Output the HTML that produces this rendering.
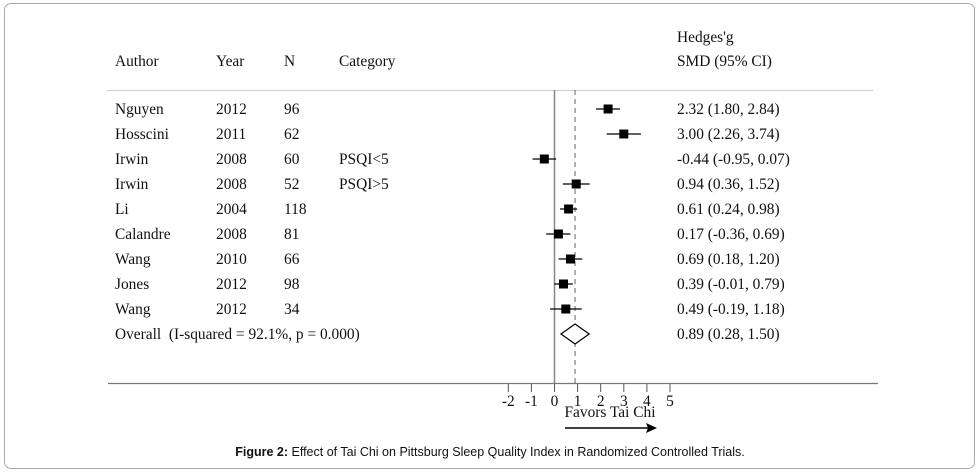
<!DOCTYPE html>
<html><head><meta charset="utf-8"><style>
body{margin:0;background:#fff;}
#frame{position:absolute;left:4px;top:3px;width:969px;height:464px;border:1px solid #aaa;border-radius:7px;}
svg{position:absolute;left:0;top:0;}
text{font-family:"Liberation Serif",serif;font-size:15.4px;fill:#111;}
.cap{font-family:"Liberation Sans",sans-serif;font-size:12.5px;}
</style></head><body>
<div id="frame"></div>
<svg id="c" width="980" height="475"></svg>
<script>
const authors=["Nguyen","Hosscini","Irwin","Irwin","Li","Calandre","Wang","Jones","Wang"];
const years=["2012","2011","2008","2008","2004","2008","2010","2012","2012"];
const ns=["96","62","60","52","118","81","66","98","34"];
const cats=["","","PSQI<5","PSQI>5","","","","",""];
const est=[2.32,3.00,-0.44,0.94,0.61,0.17,0.69,0.39,0.49];
const lo=[1.80,2.26,-0.95,0.36,0.24,-0.36,0.18,-0.01,-0.19];
const hi=[2.84,3.74,0.07,1.52,0.98,0.69,1.20,0.79,1.18];
const overall=[0.89,0.28,1.50];
const ticks=[-2,-1,0,1,2,3,4,5];
const NS="http://www.w3.org/2000/svg",svg=document.getElementById('c');
const x=v=>554.5+v*23.1, rowY=i=>109+i*25;
function el(t,a,txt){const e=document.createElementNS(NS,t);for(const k in a)e.setAttribute(k,a[k]);if(txt!==undefined)e.textContent=txt;svg.appendChild(e);return e;}
const fmt=v=>v.toFixed(2);
let e;
e=el('text',{x:677,y:42},"Hedges'g");
e=el('text',{x:677,y:66},"SMD (95% CI)");
[["Author",115],["Year",216],["N",284],["Category",339]].forEach(h=>{e=el('text',{x:h[1],y:66},h[0]);});
e=el('line',{x1:107,y1:90.5,x2:873,y2:90.5,stroke:'#ccc','stroke-width':1});
e=el('line',{x1:x(0),y1:90,x2:x(0),y2:383,stroke:'#888','stroke-width':1.5});
e=el('line',{x1:x(overall[0]),y1:90,x2:x(overall[0]),y2:383,stroke:'#666','stroke-width':1,'stroke-dasharray':'5,4'});
for(let i=0;i<est.length;i++){const y=rowY(i);
 e=el('text',{x:115,y:y+5},authors[i]);
 e=el('text',{x:216,y:y+5},years[i]);
 e=el('text',{x:284,y:y+5},ns[i]);
 if(cats[i]){e=el('text',{x:339,y:y+5},cats[i]);}
 e=el('line',{x1:x(lo[i]),y1:y,x2:x(hi[i]),y2:y,stroke:'#000','stroke-width':1.3});
 e=el('rect',{x:x(est[i])-4.5,y:y-4.5,width:9,height:9,fill:'#000'});
 e=el('text',{x:677,y:y+5},fmt(est[i])+" ("+fmt(lo[i])+", "+fmt(hi[i])+")");
}
const oy=rowY(9);
e=el('text',{x:115,y:oy+5},"Overall\u00a0\u00a0(I-squared = 92.1%, p = 0.000)");
e=el('polygon',{points:`${x(overall[1])},${oy} ${x(overall[0])},${oy-10} ${x(overall[2])},${oy} ${x(overall[0])},${oy+10}`,fill:'#fff',stroke:'#000','stroke-width':1.2});
e=el('text',{x:677,y:oy+5},fmt(overall[0])+" ("+fmt(overall[1])+", "+fmt(overall[2])+")");
e=el('line',{x1:108,y1:383.5,x2:878,y2:383.5,stroke:'#777','stroke-width':1.2});
ticks.forEach(t=>{
 e=el('line',{x1:x(t),y1:384,x2:x(t),y2:392,stroke:'#555'});
 e=el('text',{x:x(t),y:406,'text-anchor':'middle'},String(t));
});
e=el('text',{x:610,y:417,'text-anchor':'middle'},"Favors Tai Chi");
e=el('line',{x1:565,y1:428,x2:650,y2:428,stroke:'#000','stroke-width':1.5});
e=el('polygon',{points:"657,428 646,423 648,428 646,433",fill:'#000'});
e=el('text',{x:490,y:456,'text-anchor':'middle','class':'cap'});
e.innerHTML='<tspan font-weight="bold">Figure 2:</tspan> Effect of Tai Chi on Pittsburg Sleep Quality Index in Randomized Controlled Trials.';
</script>
</body></html>
